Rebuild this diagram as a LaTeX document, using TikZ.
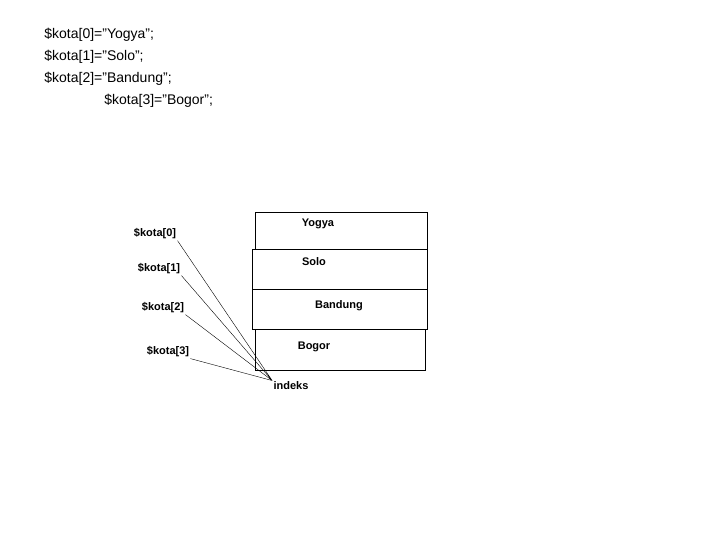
\documentclass[tikz,border=0pt]{standalone}
\usepackage{fontspec}
\setmainfont{Liberation Sans}
\usetikzlibrary{positioning}
\begin{document}
\begin{tikzpicture}[x=1pt,y=-1pt,thick]
		\tikzstyle{code}=[anchor=west,inner sep=0pt,font=\fontsize{14}{16}\selectfont]
		\tikzstyle{cell}=[draw,thin,minimum width=172pt,inner sep=0pt]
		\tikzstyle{lbl}=[font=\bfseries\fontsize{11}{13}\selectfont,inner sep=1pt]
		\useasboundingbox (0,0) rectangle (720,540);
		
		\node[code] (c_0) at (44,35) {\$kota[0]=”Yogya”;};
		\node[code] (c_1) at (44,57) {\$kota[1]=”Solo”;};
		\node[code] (c_2) at (44,79) {\$kota[2]=”Bandung”;};
		\node[code] (c_3) at (104,101) {\$kota[3]=”Bogor”;};
		
		\node[cell,minimum height=37pt] (b_0) at (341,230.5) {};
		\node[cell,minimum height=40pt,minimum width=175pt] (b_1) at (339.5,269) {};
		\node[cell,minimum height=40pt,minimum width=175pt] (b_2) at (339.5,309) {};
		\node[cell,minimum height=41pt,minimum width=170pt] (b_3) at (340,349.5) {};
		\node[lbl] at (318,224) {Yogya};
		\node[lbl] at (314,262) {Solo};
		\node[lbl] at (339,306) {Bandung};
		\node[lbl] at (314,347) {Bogor};
		
		\node[lbl] (k_0) at (155,234) {\$kota[0]};
		\node[lbl] (k_1) at (159,269) {\$kota[1]};
		\node[lbl] (k_2) at (163,308) {\$kota[2]};
		\node[lbl] (k_3) at (168,352) {\$kota[3]};
		\node[lbl] (idx) at (291,386) {indeks};
		
		\path[draw,thin]
		(k_0.south east) -- (idx.north west)
		(k_1.south east) -- (idx.north west)
		(k_2.south east) -- (idx.north west)
		(k_3.south east) -- (idx.north west);
\end{tikzpicture}
\end{document}
